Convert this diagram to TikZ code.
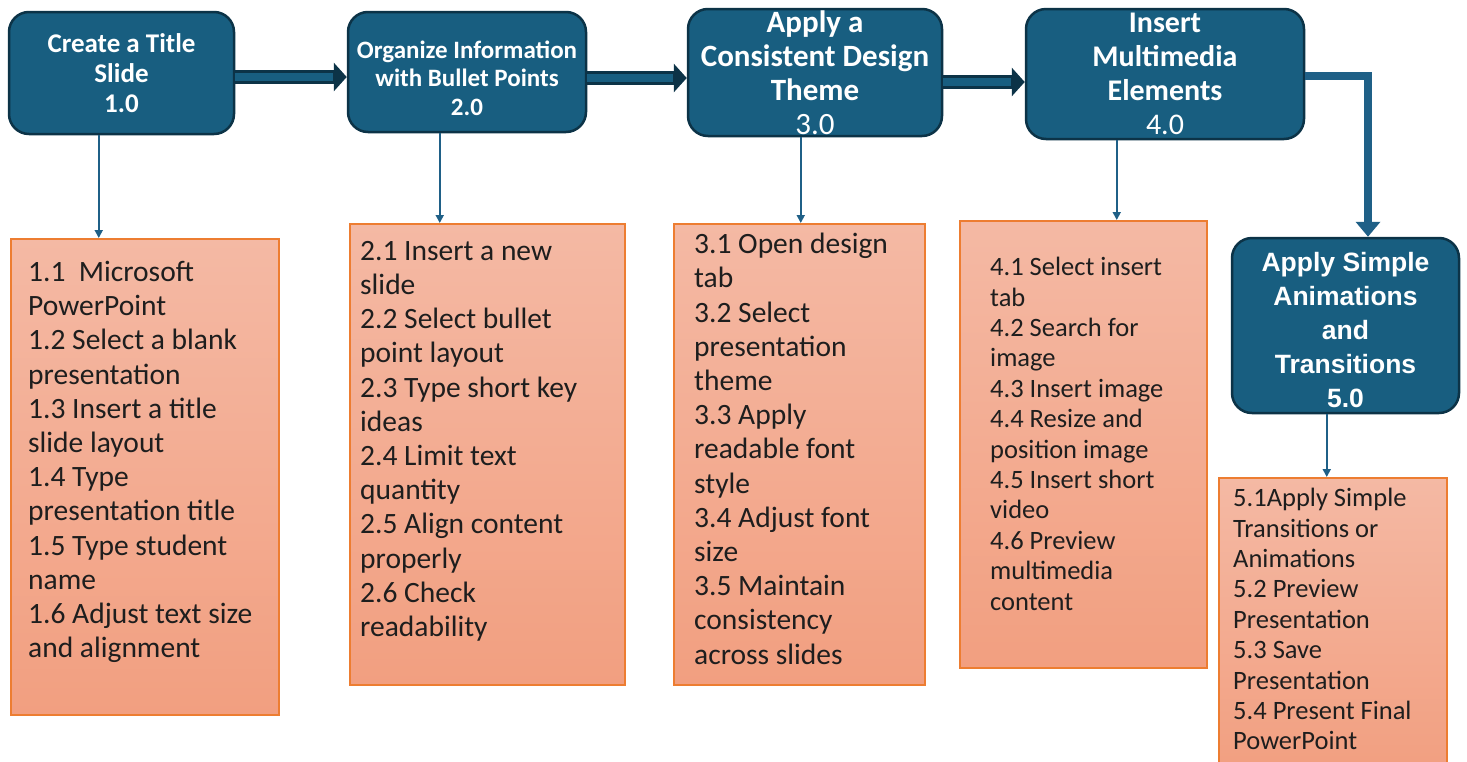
\documentclass[tikz,border=0pt]{standalone}
\usepackage{fontspec}
\setmainfont{Liberation Sans}
\newfontfamily\carl{Carlito}
\usetikzlibrary{arrows.meta}
\definecolor{dkfill}{HTML}{185E80}
\definecolor{dkline}{HTML}{0C3347}
\definecolor{arr}{HTML}{1F6087}
\definecolor{otop}{HTML}{F4B9A4}
\definecolor{obot}{HTML}{F29F80}
\definecolor{oline}{HTML}{ED7D31}
\definecolor{txt}{HTML}{1E1E1E}
\begin{document}
\begin{tikzpicture}[x=1pt,y=-1pt,
  dbox/.style={draw=dkline, line width=2.5pt, fill=dkfill, rounded corners=20pt, inner sep=0pt},
  dtext/.style={text=white, align=center, inner sep=0pt},
  obox/.style={draw=oline, line width=1.5pt, top color=otop, bottom color=obot, inner sep=0pt, anchor=north west},
  otext/.style={text=txt, align=left, inner sep=0pt, anchor=north west},
  bigfont/.style={font=\carl\fontsize{29.5}{34.2}\selectfont},
  smallfont/.style={font=\carl\fontsize{26.5}{30.4}\selectfont},
  thinarrow/.style={draw=arr, line width=1.8pt, -{Triangle[length=8pt,width=8pt]}},
  fatout/.style={draw=dkline, line width=14pt, -{Triangle[length=13pt,width=28pt]}},
  fatin/.style={draw=dkfill, line width=8pt, shorten >=14pt},
  bigbend/.style={draw=arr, line width=8pt, -{Triangle[length=15pt,width=24pt]}}]
\useasboundingbox (0,0) rectangle (1467,761);
\fill[white] (0,0) rectangle (1467,761);
\clip (0,0) rectangle (1467,761);

% dark process boxes
\node[dbox, minimum width=225pt, minimum height=122pt] (b1) at (121.5,73) {};
\node[dtext, font=\carl\bfseries\fontsize{27}{30}\selectfont] (t1) at (b1.center) {Create a Title\\Slide\\1.0};
\node[dbox, minimum width=238pt, minimum height=120pt] (b2) at (467,72) {};
\node[dtext, font=\carl\bfseries\fontsize{25}{28.5}\selectfont] (t2) at ([yshift=-6pt]b2.center) {Organize Information\\with Bullet Points\\2.0};
\node[dbox, minimum width=254pt, minimum height=127pt] (b3) at (815,72.5) {};
\node[dtext, font=\carl\bfseries\fontsize{31}{34}\selectfont] (t3) at (b3.center) {Apply a\\Consistent Design\\Theme\\{\mdseries 3.0}};
\node[dbox, minimum width=278pt, minimum height=130pt] (b4) at (1165,74) {};
\node[dtext, font=\carl\bfseries\fontsize{30}{34}\selectfont] (t4) at (b4.center) {Insert\\Multimedia\\Elements\\{\mdseries 4.0}};
\node[dbox, minimum width=227pt, minimum height=175pt] (b5) at (1345.5,325.5) {};
\node[dtext, font=\bfseries\fontsize{26.5}{34}\selectfont] (t5) at ([yshift=-5pt]b5.center) {Apply Simple\\Animations\\and\\Transitions\\5.0};

% orange task boxes
\node[obox, minimum width=268pt, minimum height=476pt] (o1) at (10,238) {};
\node[otext, bigfont] (ot1) at (28,261) {1.1~~Microsoft\\PowerPoint\\1.2 Select a blank\\presentation\\1.3 Insert a title\\slide layout\\1.4 Type\\presentation title\\1.5 Type student\\name\\1.6 Adjust text size\\and alignment};
\node[obox, minimum width=275pt, minimum height=461pt] (o2) at (349,223) {};
\node[otext, bigfont] (ot2) at (360,241) {2.1 Insert a new\\slide\\2.2 Select bullet\\point layout\\2.3 Type short key\\ideas\\2.4 Limit text\\quantity\\2.5 Align content\\properly\\2.6 Check\\readability};
\node[obox, minimum width=251pt, minimum height=461pt] (o3) at (673,223) {};
\node[otext, bigfont] (ot3) at (694,233) {3.1 Open design\\tab\\3.2 Select\\presentation\\theme\\3.3 Apply\\readable font\\style\\3.4 Adjust font\\size\\3.5 Maintain\\consistency\\across slides};
\node[obox, minimum width=247pt, minimum height=447pt] (o4) at (959,220) {};
\node[otext, smallfont] (ot4) at (990,257) {4.1 Select insert\\tab\\4.2 Search for\\image\\4.3 Insert image\\4.4 Resize and\\position image\\4.5 Insert short\\video\\4.6 Preview\\multimedia\\content};
\node[obox, minimum width=228pt, minimum height=295pt] (o5) at (1218,477) {};
\node[otext, smallfont] (ot5) at (1233,488) {5.1Apply Simple\\Transitions or\\Animations\\5.2 Preview\\Presentation\\5.3 Save\\Presentation\\5.4 Present Final\\PowerPoint};

% thin down arrows
\path ([xshift=91pt]b1.south west) coordinate (a1);
\path ([xshift=93pt]b2.south west) coordinate (a2);
\path ([xshift=114pt]b3.south west) coordinate (a3);
\path ([xshift=92pt]b4.south west) coordinate (a4);
\path ([xshift=96pt]b5.south west) coordinate (a5);
\draw[thinarrow] (a1) -- (a1 |- o1.north);
\draw[thinarrow] (a2) -- (a2 |- o2.north);
\draw[thinarrow] (a3) -- (a3 |- o3.north);
\draw[thinarrow] (a4) -- (a4 |- o4.north);
\draw[thinarrow] (a5) -- (a5 |- o5.north);

% fat arrows between steps
\path (b1.east) ++(0,4) coordinate (f1);
\path (b2.east) ++(0,6) coordinate (f2);
\path (b3.east) ++(0,9.5) coordinate (f3);
\draw[fatout] (f1) -- (f1 -| b2.west);
\draw[fatin] (f1) -- (f1 -| b2.west);
\draw[fatout] (f2) -- (f2 -| b3.west);
\draw[fatin] (f2) -- (f2 -| b3.west);
\draw[fatout] (f3) -- (f3 -| b4.west);
\draw[fatin] (f3) -- (f3 -| b4.west);

% bend arrow 4 -> 5
\path (b4.east) ++(0,2) coordinate (f4);
\path (b5.north) ++(22.5,0) coordinate (f5);
\draw[bigbend] (f4) -| (f5);
\end{tikzpicture}
\end{document}
